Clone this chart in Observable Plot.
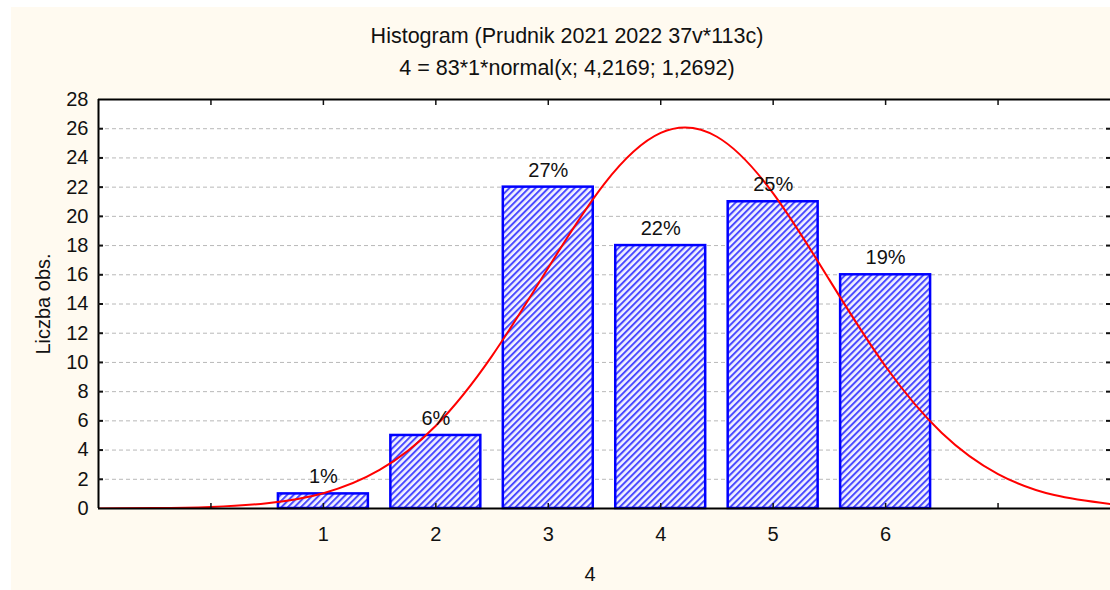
<!DOCTYPE html>
<html><head><meta charset="utf-8">
<script src="https://cdn.jsdelivr.net/npm/d3@7"></script>
<script src="https://cdn.jsdelivr.net/npm/@observablehq/plot@0.6"></script>
<style>
body{margin:0;background:#fff;font-family:"Liberation Sans",Arial,sans-serif;}
#wrap{position:relative;width:1110px;height:590px;overflow:hidden;background:#fff;}
#panel{position:absolute;left:11px;top:7px;right:0;bottom:0;background:#fffaf0;}
.t{position:absolute;color:#111;white-space:nowrap;transform:translate(-50%,-50%);line-height:1;}
#chart{position:absolute;left:0;top:0;}
</style></head><body>
<svg width="0" height="0" style="position:absolute"><defs>
<pattern id="hatch" patternUnits="userSpaceOnUse" width="4.6" height="4.6" patternTransform="rotate(45)">
<rect width="4.6" height="4.6" fill="#f2f2ff"/>
<line x1="1" y1="0" x2="1" y2="4.6" stroke="#4a4aff" stroke-width="2"/>
</pattern></defs></svg>
<div id="wrap">
  <div id="panel"></div>
  <div class="t" style="left:567px;top:37px;font-size:21.5px">Histogram (Prudnik 2021 2022 37v*113c)</div>
  <div class="t" style="left:567px;top:69px;font-size:21.5px">4 = 83*1*normal(x; 4,2169; 1,2692)</div>
  <div class="t" style="left:590px;top:574px;font-size:20px">4</div>
  <div id="chart"></div>
</div>
<script>
// Histogram categories and counts
const categories = [1, 2, 3, 4, 5, 6];
const counts = [1, 5, 22, 18, 21, 16];
const percentLabels = ["1%", "6%", "27%", "22%", "25%", "19%"];
// Axis ticks
const yTicks = [0, 2, 4, 6, 8, 10, 12, 14, 16, 18, 20, 22, 24, 26, 28];
const yGridTicks = [2, 4, 6, 8, 10, 12, 14, 16, 18, 20, 22, 24, 26];
const xTickMarks = [0, 1, 2, 3, 4, 5, 6, 7];
// Fitted normal curve
const curveX = [-1, -0.5, 0, 0.5, 1, 1.5, 2, 2.5, 3, 3.5, 4, 4.5, 5, 5.5, 6, 6.5, 7, 7.5, 8];
const curveY = [0.006, 0.026, 0.105, 0.358, 1.05, 2.64, 5.67, 10.45, 16.48, 22.24, 25.71, 25.45, 21.57, 15.65, 9.72, 5.17, 2.36, 0.92, 0.31];

const bars = categories.map((c, i) => ({x: c, count: counts[i], label: percentLabels[i]}));
const curve = curveX.map((x, i) => ({x, y: curveY[i]}));
const blank = () => "";

const plot = Plot.plot({
  width: 1110,
  height: 590,
  marginLeft: 98,
  marginRight: 0,
  marginTop: 99,
  marginBottom: 82,
  style: {background: "transparent", fontFamily: "'Liberation Sans', Arial, sans-serif", fontSize: "20px", color: "#111", overflow: "visible"},
  x: {domain: [-1, 8]},
  y: {domain: [0, 28]},
  marks: [
    Plot.frame({fill: "white", stroke: "none"}),
    Plot.gridY(yGridTicks, {stroke: "#b8b8b8", strokeOpacity: 1, strokeDasharray: "4,3"}),
    Plot.rectY(bars, {x1: d => d.x - 0.4, x2: d => d.x + 0.4, y1: 0, y2: "count", fill: "url(#hatch)", stroke: "#0000ff", strokeWidth: 2.5}),
    Plot.line(curve, {x: "x", y: "y", stroke: "#ff0000", strokeWidth: 2, curve: "natural", clip: true}),
    Plot.text(bars, {x: "x", y: "count", text: "label", dy: -17, fontSize: 20, fill: "#111"}),
    Plot.ruleY([0, 28], {stroke: "black", strokeWidth: 2}),
    Plot.ruleX([-1], {stroke: "black", strokeWidth: 2}),
    Plot.axisY(yTicks, {tickSize: 0, tickPadding: 10, fontSize: 20, label: "Liczba obs.", labelAnchor: "center", labelOffset: 63, labelArrow: "none"}),
    Plot.axisY(yGridTicks, {tickSize: -5, tickFormat: blank, label: null, strokeWidth: 2}),
    Plot.axisY(yGridTicks, {anchor: "right", tickSize: -5, tickFormat: blank, label: null, strokeWidth: 2}),
    Plot.axisX(categories, {tickSize: 0, tickPadding: 18, fontSize: 20, label: null}),
    Plot.axisX(xTickMarks, {tickSize: -5, tickFormat: blank, label: null, strokeWidth: 1.5}),
    Plot.axisX(xTickMarks, {anchor: "top", tickSize: -5, tickFormat: blank, label: null, strokeWidth: 1.5})
  ]
});
document.getElementById("chart").appendChild(plot);
</script>
</body></html>
